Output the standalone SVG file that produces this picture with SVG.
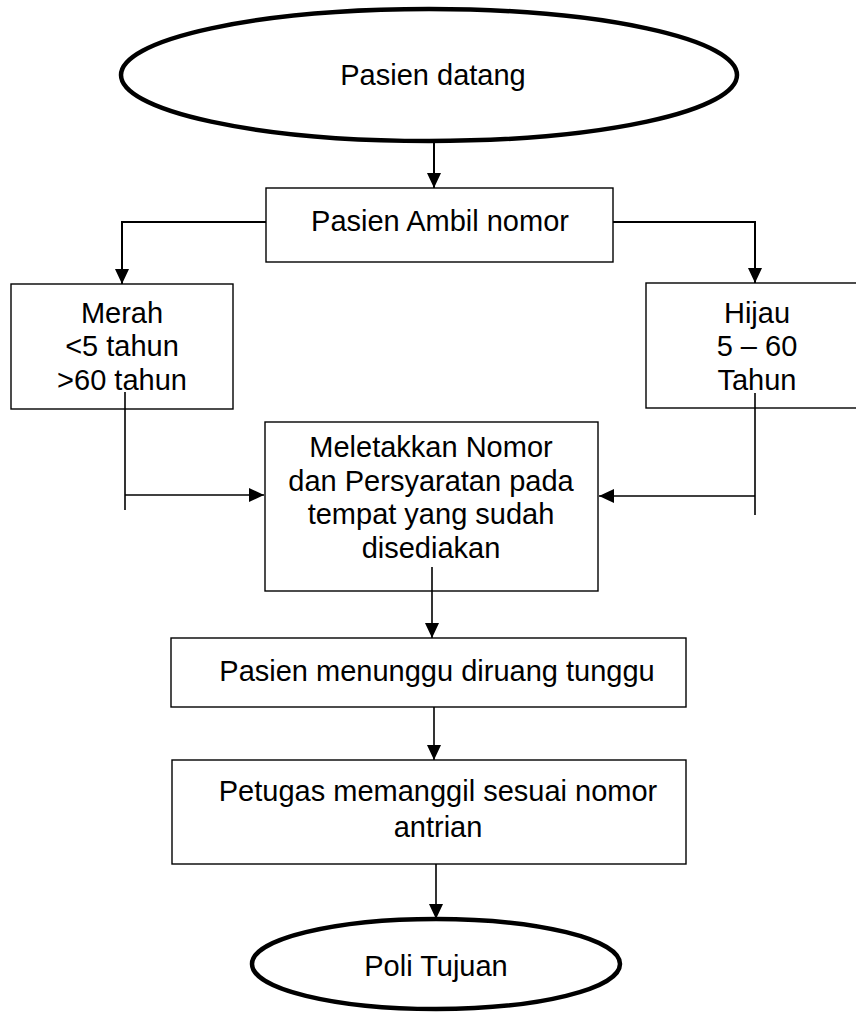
<svg xmlns="http://www.w3.org/2000/svg" width="856" height="1014" viewBox="0 0 856 1014">
<style>
text{font-family:"Liberation Sans",Arial,sans-serif;font-size:29px;fill:#000;text-anchor:middle}
.box{fill:#fff;stroke:#000;stroke-width:1.4}
.term{fill:#fff;stroke:#000;stroke-width:4.5}
.con{fill:none;stroke:#000;stroke-width:1.6}
.con2{fill:none;stroke:#000;stroke-width:2}
</style>
<defs>
<marker id="ah" markerUnits="userSpaceOnUse" markerWidth="15" markerHeight="14" viewBox="0 0 15 14" refX="15" refY="7" orient="auto">
<path d="M0,0 L15,7 L0,14 Z" fill="#000"/>
</marker>
</defs>
<rect width="856" height="1014" fill="#fff"/>
<g id="start">
<ellipse class="term" cx="429" cy="75" rx="308" ry="66"/>
<text x="433" y="85">Pasien datang</text>
</g>
<g id="ambil">
<rect class="box" x="266" y="188" width="347" height="74"/>
<text x="440" y="231">Pasien Ambil nomor</text>
</g>
<g id="merah">
<rect class="box" x="11" y="284" width="222" height="125"/>
<text x="122" y="323">Merah</text>
<text x="122" y="356">&lt;5 tahun</text>
<text x="122" y="390">&gt;60 tahun</text>
</g>
<g id="hijau">
<rect class="box" x="646" y="283" width="216" height="125"/>
<text x="757" y="323">Hijau</text>
<text x="757" y="356">5 – 60</text>
<text x="757" y="390">Tahun</text>
</g>
<g id="meletakkan">
<rect class="box" x="265" y="422" width="333" height="169"/>
<text x="431" y="457">Meletakkan Nomor</text>
<text x="431" y="491">dan Persyaratan pada</text>
<text x="431" y="524">tempat yang sudah</text>
<text x="431" y="558">disediakan</text>
</g>
<g id="menunggu">
<rect class="box" x="171" y="638" width="515" height="69"/>
<text x="437" y="681">Pasien menunggu diruang tunggu</text>
</g>
<g id="petugas">
<rect class="box" x="172" y="760" width="514" height="104"/>
<text x="438" y="801">Petugas memanggil sesuai nomor</text>
<text x="438" y="837">antrian</text>
</g>
<g id="end">
<ellipse class="term" cx="436" cy="964" rx="184" ry="45"/>
<text x="436" y="976">Poli Tujuan</text>
</g>
<g id="connectors">
<line class="con2" x1="434" y1="141" x2="434" y2="188" marker-end="url(#ah)"/>
<polyline class="con2" points="266,222 122,222 122,284" marker-end="url(#ah)"/>
<polyline class="con2" points="613,222 755,222 755,283" marker-end="url(#ah)"/>
<line class="con" x1="125" y1="392" x2="125" y2="510"/>
<line class="con" x1="125" y1="495" x2="264" y2="495" marker-end="url(#ah)"/>
<line class="con" x1="755" y1="393" x2="755" y2="515"/>
<line class="con" x1="755" y1="496" x2="599" y2="496" marker-end="url(#ah)"/>
<line class="con" x1="432" y1="567" x2="432" y2="638" marker-end="url(#ah)"/>
<line class="con" x1="434" y1="707" x2="434" y2="760" marker-end="url(#ah)"/>
<line class="con" x1="436" y1="864" x2="436" y2="919" marker-end="url(#ah)"/>
</g>
</svg>
